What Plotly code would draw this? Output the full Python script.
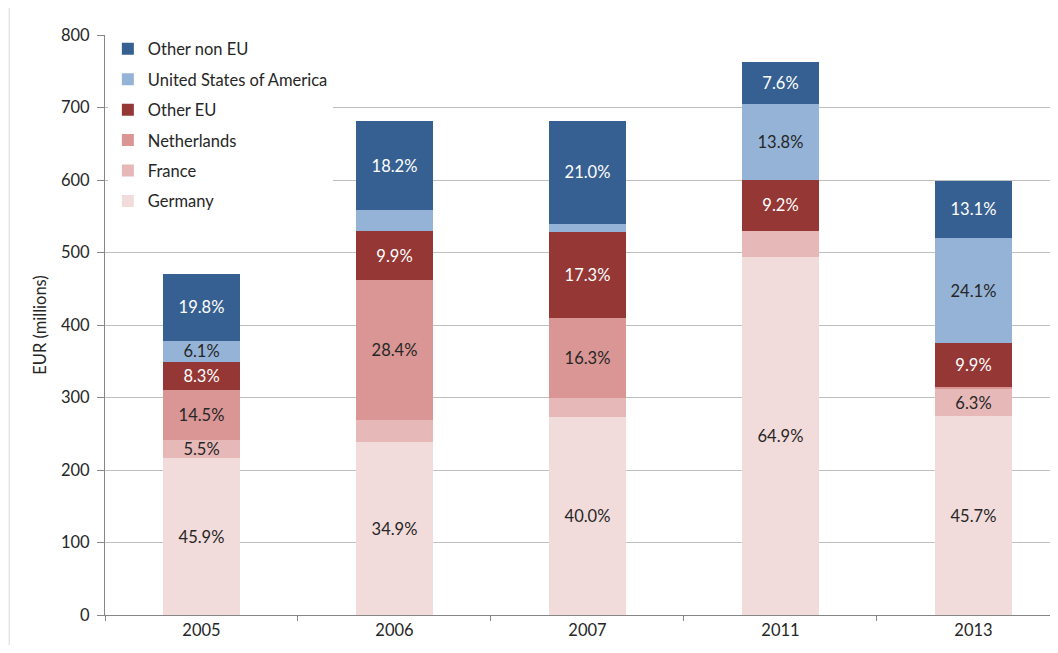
import plotly.graph_objects as go

# categories and series (EUR millions)
years = ["2005", "2006", "2007", "2011", "2013"]

germany = [216, 238, 273, 494, 274]
france = [26, 31, 26, 36, 38]
netherlands = [68, 193, 111, 0, 3]
other_eu = [39, 67, 118, 70, 60]
usa = [29, 29, 11, 105, 145]
other_non_eu = [93, 124, 143, 58, 79]

# data labels as printed on the bars
germany_lbl = ["45.9%", "34.9%", "40.0%", "64.9%", "45.7%"]
france_lbl = ["5.5%", "", "", "", "6.3%"]
netherlands_lbl = ["14.5%", "28.4%", "16.3%", "", ""]
other_eu_lbl = ["8.3%", "9.9%", "17.3%", "9.2%", "9.9%"]
usa_lbl = ["6.1%", "", "", "13.8%", "24.1%"]
other_non_eu_lbl = ["19.8%", "18.2%", "21.0%", "7.6%", "13.1%"]

series = [
    ("Germany", germany, germany_lbl, "#F2DCDB", "#262626"),
    ("France", france, france_lbl, "#E6B9B8", "#262626"),
    ("Netherlands", netherlands, netherlands_lbl, "#D99694", "#262626"),
    ("Other EU", other_eu, other_eu_lbl, "#953735", "white"),
    ("United States of America", usa, usa_lbl, "#95B3D7", "#262626"),
    ("Other non EU", other_non_eu, other_non_eu_lbl, "#376092", "white"),
]

FONT = "Lato, Carlito, Calibri, sans-serif"

fig = go.Figure()
for i, (name, vals, lbls, color, tcolor) in enumerate(series):
    fig.add_trace(go.Bar(
        x=years, y=vals, name=name,
        marker=dict(color=color, line=dict(width=0)),
        text=lbls, textposition="inside", insidetextanchor="middle",
        textangle=0, constraintext="none",
        textfont=dict(color=tcolor, size=16.5, family=FONT),
        legendgroup=name, legendrank=100 - i,
        hoverinfo="skip",
    ))

# page body adds an 8px margin; the original chart is cropped on the right
fig.update_layout(
    barmode="stack",
    bargap=0.6,
    width=1050, height=637,
    margin=dict(l=97, r=0, t=27, b=30),
    paper_bgcolor="white", plot_bgcolor="white",
    font=dict(family=FONT, size=16.5, color="#262626"),
    showlegend=True,
    legend=dict(
        x=0.003, y=1.006, xanchor="left", yanchor="top",
        bgcolor="white", traceorder="grouped", tracegroupgap=6,
        font=dict(size=16.5, family=FONT, color="#262626"),
        itemwidth=30,
    ),
    xaxis=dict(
        automargin=False,
        range=[-0.5, 4.438],
        showline=True, linecolor="#868686", linewidth=1,
        ticks="outside", ticklen=5, tickcolor="#868686",
        tickson="boundaries", showgrid=False,
        tickfont=dict(size=16.5),
    ),
    yaxis=dict(
        automargin=False,
        range=[0, 800], dtick=100,
        showline=True, linecolor="#868686", linewidth=1,
        ticks="outside", ticklen=7, tickcolor="#868686",
        ticklabelstandoff=4,
        showgrid=True, gridcolor="#BFBFBF", gridwidth=1,
        zeroline=False,
        title=dict(text="EUR (millions)", font=dict(size=16.5), standoff=10),
        tickfont=dict(size=16.5),
    ),
    shapes=[dict(type="line", xref="paper", yref="paper",
                 x0=-0.1005, x1=-0.1005, y0=-0.06, y1=1.05,
                 line=dict(color="#D9D9D9", width=1))],
)

fig.write_html("out.html")
